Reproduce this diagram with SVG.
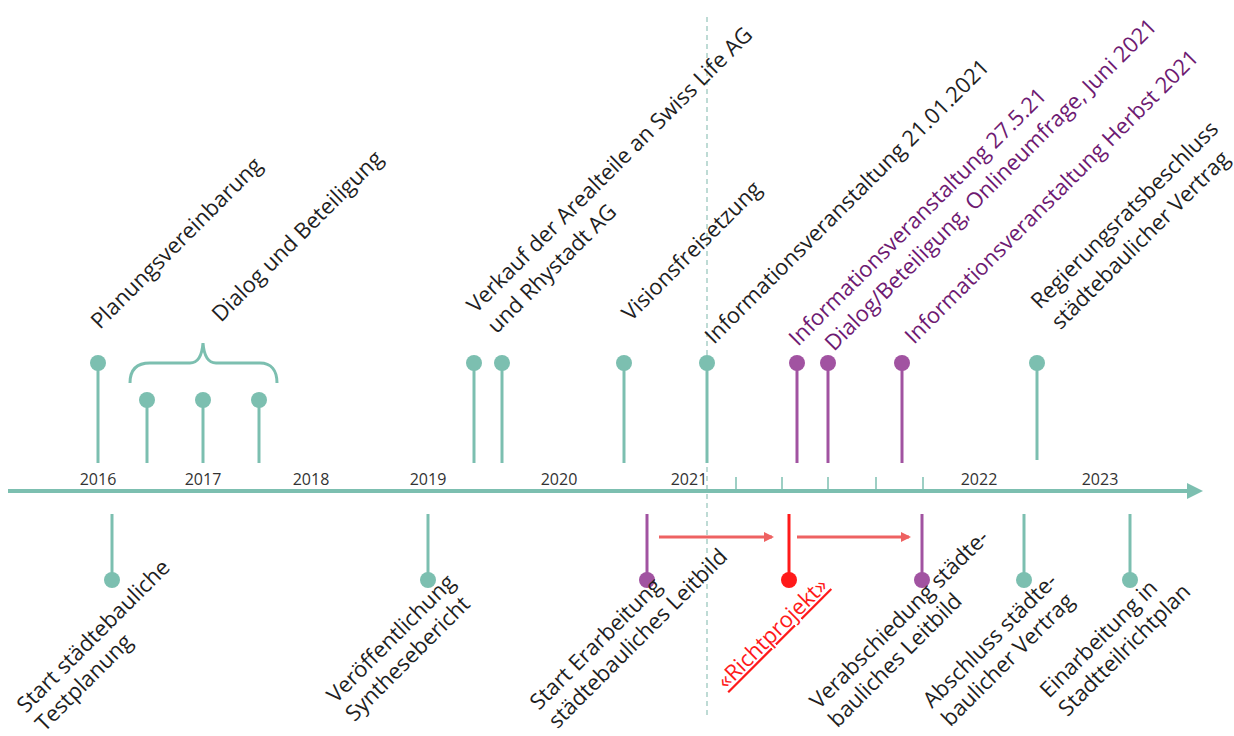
<svg xmlns="http://www.w3.org/2000/svg" width="1234" height="736" viewBox="0 0 1234 736">
<defs>
<style>
.lbl{font-family:"Open Sans","Noto Sans","Liberation Sans",sans-serif;font-size:22px;fill:#1f1f1f}
.pl{fill:#6e1a72}
.rd{fill:#ff1a1a;text-decoration:underline}
.yr{font-family:"Open Sans","Noto Sans","Liberation Sans",sans-serif;font-size:16px;fill:#333333;text-anchor:middle}
.st{stroke:#7cbfb0;stroke-width:3;fill:none}
.sp{stroke:#a153a1;stroke-width:3;fill:none}
.sr{stroke:#ff1a1a;stroke-width:3;fill:none}
.ct{fill:#7cbfb0}
.cp{fill:#a153a1}
.cr{fill:#ff1a1a}
.tick{stroke:#7cbfb0;stroke-width:1.5}
.arr{stroke:#ee6262;stroke-width:3;fill:none}
</style>
<marker id="ah" markerWidth="10" markerHeight="10" refX="8" refY="5" orient="auto" markerUnits="userSpaceOnUse">
<path d="M0,0 L10,5 L0,10 Z" fill="#ee6262"/>
</marker>
</defs>
<rect width="1234" height="736" fill="#ffffff"/>

<!-- dashed divider -->
<line x1="707" y1="17" x2="707" y2="718" stroke="#a9cfc8" stroke-width="1.5" stroke-dasharray="5,4"/>

<!-- axis -->
<g id="axis">
<line x1="8" y1="491" x2="1192" y2="491" stroke="#7cbfb0" stroke-width="4"/>
<polygon points="1187,483 1203,491 1187,499" fill="#7cbfb0"/>
<line class="tick" x1="736" y1="477" x2="736" y2="490"/>
<line class="tick" x1="782" y1="477" x2="782" y2="490"/>
<line class="tick" x1="828" y1="477" x2="828" y2="490"/>
<line class="tick" x1="876" y1="477" x2="876" y2="490"/>
<line class="tick" x1="923" y1="477" x2="923" y2="490"/>
<text class="yr" x="98" y="485">2016</text>
<text class="yr" x="203" y="485">2017</text>
<text class="yr" x="311" y="485">2018</text>
<text class="yr" x="428" y="485">2019</text>
<text class="yr" x="559" y="485">2020</text>
<text class="yr" x="689" y="485">2021</text>
<text class="yr" x="979" y="485">2022</text>
<text class="yr" x="1100" y="485">2023</text>
</g>

<!-- connectors -->
<g id="connectors">
<path class="st" d="M130,383 C130,370 136,363 150,363 L190,363 C198,363 202,356 203,343 C204,356 208,363 216,363 L260,363 C271,363 277,370 277,383"/>
<line class="arr" x1="659" y1="537" x2="772" y2="537" marker-end="url(#ah)"/>
<line class="arr" x1="797" y1="537" x2="909" y2="537" marker-end="url(#ah)"/>
</g>

<!-- top events -->
<g id="ev-planung"><line class="st" x1="98" y1="363" x2="98" y2="463"/><circle class="ct" cx="98" cy="363" r="8"/>
<text class="lbl" transform="translate(100,330) rotate(-45)">Planungsvereinbarung</text></g>
<g id="ev-dialog"><line class="st" x1="147" y1="400" x2="147" y2="463"/><circle class="ct" cx="147" cy="400" r="8"/>
<line class="st" x1="203" y1="400" x2="203" y2="463"/><circle class="ct" cx="203" cy="400" r="8"/>
<line class="st" x1="259" y1="400" x2="259" y2="463"/><circle class="ct" cx="259" cy="400" r="8"/>
<text class="lbl" transform="translate(221,323) rotate(-45)">Dialog und Beteiligung</text></g>
<g id="ev-verkauf"><line class="st" x1="474" y1="363" x2="474" y2="463"/><circle class="ct" cx="474" cy="363" r="8"/>
<line class="st" x1="502" y1="363" x2="502" y2="463"/><circle class="ct" cx="502" cy="363" r="8"/>
<text class="lbl" transform="translate(476,314) rotate(-45)"><tspan x="0" y="0">Verkauf der Arealteile an Swiss Life AG</tspan><tspan x="0" y="29">und Rhystadt AG</tspan></text></g>
<g id="ev-vision"><line class="st" x1="624" y1="363" x2="624" y2="463"/><circle class="ct" cx="624" cy="363" r="8"/>
<text class="lbl" transform="translate(631,322) rotate(-45)">Visionsfreisetzung</text></g>
<g id="ev-info1"><line class="st" x1="707" y1="363" x2="707" y2="463"/><circle class="ct" cx="707" cy="363" r="8"/>
<text class="lbl" transform="translate(714,345) rotate(-45)">Informationsveranstaltung 21.01.2021</text></g>
<g id="ev-info2"><line class="sp" x1="797" y1="363" x2="797" y2="463"/><circle class="cp" cx="797" cy="363" r="8"/>
<text class="lbl pl" transform="translate(798,347) rotate(-45)">Informationsveranstaltung 27.5.21</text></g>
<g id="ev-dialog2"><line class="sp" x1="828" y1="363" x2="828" y2="463"/><circle class="cp" cx="828" cy="363" r="8"/>
<text class="lbl pl" transform="translate(834,352) rotate(-45)">Dialog/Beteiligung, Onlineumfrage, Juni 2021</text></g>
<g id="ev-info3"><line class="sp" x1="902" y1="363" x2="902" y2="463"/><circle class="cp" cx="902" cy="363" r="8"/>
<text class="lbl pl" transform="translate(914,345) rotate(-45)">Informationsveranstaltung Herbst 2021</text></g>
<g id="ev-regierung"><line class="st" x1="1037" y1="363" x2="1037" y2="460"/><circle class="ct" cx="1037" cy="363" r="8"/>
<text class="lbl" transform="translate(1040,310) rotate(-45)"><tspan x="0" y="0">Regierungsratsbeschluss</tspan><tspan x="0" y="29">städtebaulicher Vertrag</tspan></text></g>

<!-- bottom events -->
<g id="ev-start"><line class="st" x1="112" y1="514" x2="112" y2="580"/><circle class="ct" cx="112" cy="580" r="8"/>
<text class="lbl" transform="translate(26,714) rotate(-45)"><tspan x="0" y="0">Start städtebauliche</tspan><tspan x="0" y="26">Testplanung</tspan></text></g>
<g id="ev-synthese"><line class="st" x1="428" y1="514" x2="428" y2="580"/><circle class="ct" cx="428" cy="580" r="8"/>
<text class="lbl" transform="translate(336,704) rotate(-45)"><tspan x="0" y="0">Veröffentlichung</tspan><tspan x="0" y="26">Synthesebericht</tspan></text></g>
<g id="ev-leitbild"><line class="sp" x1="647" y1="514" x2="647" y2="580"/><circle class="cp" cx="647" cy="580" r="8"/>
<text class="lbl" transform="translate(539,711) rotate(-45)"><tspan x="0" y="0">Start Erarbeitung</tspan><tspan x="0" y="26">städtebauliches Leitbild</tspan></text></g>
<g id="ev-richtprojekt"><line class="sr" x1="789" y1="514" x2="789" y2="580"/><circle class="cr" cx="789" cy="580" r="8"/>
<text class="lbl rd" transform="translate(726,690) rotate(-45)">«Richtprojekt»</text></g>
<g id="ev-verabschiedung"><line class="sp" x1="922" y1="514" x2="922" y2="580"/><circle class="cp" cx="922" cy="580" r="8"/>
<text class="lbl" transform="translate(819,710) rotate(-45)"><tspan x="0" y="0">Verabschiedung städte-</tspan><tspan x="0" y="26">bauliches Leitbild</tspan></text></g>
<g id="ev-abschluss"><line class="st" x1="1024" y1="514" x2="1024" y2="580"/><circle class="ct" cx="1024" cy="580" r="8"/>
<text class="lbl" transform="translate(932,709) rotate(-45)"><tspan x="0" y="0">Abschluss städte-</tspan><tspan x="0" y="26">baulicher Vertrag</tspan></text></g>
<g id="ev-einarbeitung"><line class="st" x1="1130" y1="514" x2="1130" y2="580"/><circle class="ct" cx="1130" cy="580" r="8"/>
<text class="lbl" transform="translate(1049,699) rotate(-45)"><tspan x="0" y="0">Einarbeitung in</tspan><tspan x="0" y="26">Stadtteilrichtplan</tspan></text></g>
</svg>
